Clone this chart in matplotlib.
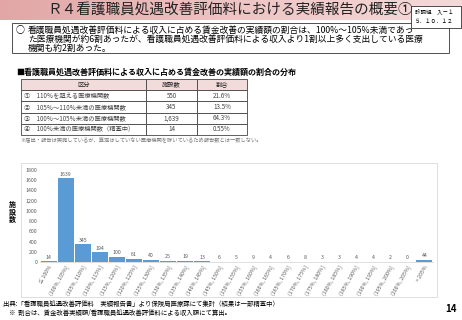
import numpy as np
import matplotlib.pyplot as plt
from matplotlib.patches import Rectangle
from matplotlib.colors import LinearSegmentedColormap

plt.rcParams['font.family'] = ['Noto Sans CJK JP', 'DejaVu Sans']

# ----------------------------
# Data
# ----------------------------
categories = ["≤ 100%", "(100%, 105%]", "(105%, 110%]", "(110%, 115%]", "(115%, 120%]",
              "(120%, 125%]", "(125%, 130%]", "(130%, 135%]", "(135%, 140%]", "(140%, 145%]",
              "(145%, 150%]", "(150%, 155%]", "(155%, 160%]", "(160%, 165%]", "(165%, 170%]",
              "(170%, 175%]", "(175%, 180%]", "(180%, 185%]", "(185%, 190%]", "(190%, 195%]",
              "(195%, 200%]", "(200%, 205%]", "> 205%"]
counts = [14, 1639, 345, 194, 100, 61, 40, 25, 19, 13, 6, 5, 9, 4, 6, 8, 3, 3, 4, 4, 2, 0, 44]

table_labels = ["①　110％を超える医療機関数", "②　105％～110％未満の医療機関数",
                "③　100％～105％未満の医療機関数", "④　100％未満の医療機関数（精査中）"]
table_counts = ["550", "345", "1,639", "14"]
table_ratios = ["21.6%", "13.5%", "64.3%", "0.55%"]

W, H = 462, 320


def fx(x):
    return x / W


def fy(y):
    return 1 - y / H


fig = plt.figure(figsize=(4.62, 3.2), dpi=100)

# ----------------------------
# Title band
# ----------------------------
band = fig.add_axes([0, fy(20), 1, 20 / H], zorder=-2)
grad = np.linspace(0, 1, 256).reshape(1, -1)
band.imshow(grad, aspect="auto", extent=[0, 1, 0, 1],
            cmap=LinearSegmentedColormap.from_list("pink", ["#e2a6a6", "#eec4c4", "#f5dada"]))
band.set_axis_off()
fig.text(fx(230), fy(11), "Ｒ４看護職員処遇改善評価料における実績報告の概要①",
         ha="center", va="center", fontsize=10.5, color="#222222")

fig.patches.append(Rectangle((fx(411), fy(28)), 50 / W, 22 / H, transform=fig.transFigure,
                             facecolor="white", edgecolor="#333333", lw=0.6, zorder=2))
fig.text(fx(415), fy(12), "診調組　入－１", fontsize=4, va="center", ha="left", zorder=3)
fig.text(fx(415), fy(21.5), "５．１０．１２", fontsize=4, va="center", ha="left", zorder=3)

# ----------------------------
# Summary box
# ----------------------------
fig.patches.append(Rectangle((fx(12), fy(53)), 437 / W, 30 / H, transform=fig.transFigure,
                             facecolor="white", edgecolor="#333333", lw=0.6, zorder=1))
fig.text(fx(16), fy(30), "○", fontsize=6.5, va="center")
fig.text(fx(28), fy(30), "看護職員処遇改善評価料による収入に占める賃金改善の実績額の割合は、100%～105%未満であっ",
         fontsize=6.3, va="center")
fig.text(fx(28), fy(39.5), "た医療機関が約6割あったが、看護職員処遇改善評価料による収入より1割以上多く支出している医療",
         fontsize=6.3, va="center")
fig.text(fx(28), fy(48.5), "機関も約2割あった。", fontsize=6.3, va="center")

fig.text(fx(16), fy(72), "■看護職員処遇改善評価料による収入に占める賃金改善の実績額の割合の分布",
         fontsize=5.8, va="center", fontweight="bold")

# ----------------------------
# Table
# ----------------------------
tax = fig.add_axes([fx(21), fy(135), 226 / W, 56 / H])
tax.set_axis_off()
rows = [[a, b, c] for a, b, c in zip(table_labels, table_counts, table_ratios)]
tbl = tax.table(cellText=rows, colLabels=["区分", "施設数", "割合"],
                colWidths=[125, 51, 50], bbox=[0, 0, 1, 1], cellLoc="center")
tbl.auto_set_font_size(False)
for (r, c), cell in tbl.get_celld().items():
    cell.set_linewidth(0.6)
    cell.set_edgecolor("#444444")
    cell.get_text().set_fontsize(4.5)
    cell.get_text().set_color("#444444")
    if r == 0:
        cell.set_facecolor("#f2dcdb")
        cell.get_text().set_color("#222222")
    if c == 0 and r > 0:
        cell.get_text().set_ha("left")
        cell.PAD = 0.02

fig.text(fx(20), fy(141), "※届出・報告は実施しているが、算定はしていない医療機関を除いているため報告数とは一致しない。",
         fontsize=3.8, color="#777777", va="center")

# ----------------------------
# Bar chart
# ----------------------------
fig.patches.append(Rectangle((fx(21), fy(297)), 416 / W, 134 / H, transform=fig.transFigure,
                             facecolor="white", edgecolor="#d9d9d9", lw=0.6, zorder=-1))
ax = fig.add_axes([fx(40), fy(262), 393 / W, 92 / H])
x = np.arange(len(categories))
ax.bar(x, counts, width=0.94, color="#5b9bd5")
for xi, v in zip(x, counts):
    ax.text(xi, v + 30, str(v), ha="center", va="bottom", fontsize=3.8, color="#595959")
ax.set_xlim(-0.5, len(categories) - 0.5)
ax.set_ylim(0, 1800)
ax.set_yticks(range(0, 1801, 200))
ax.set_xticks(x)
ax.set_xticklabels(categories, rotation=60, ha="right", rotation_mode="anchor")
ax.tick_params(axis="both", labelsize=3.8, labelcolor="#595959", length=0, pad=2)
for s in ["top", "right", "left"]:
    ax.spines[s].set_visible(False)
ax.spines["bottom"].set_color("#d9d9d9")
ax.spines["bottom"].set_linewidth(0.6)
ax.set_facecolor("none")
fig.text(fx(12), fy(212), "施\n設\n数", fontsize=5, fontweight="bold", ha="center", va="center",
         linespacing=1.0)

# ----------------------------
# Footer
# ----------------------------
fig.text(fx(3), fy(304), "出典:「看護職員処遇改善評価料　実績報告書」より保険局医療課にて集計（結果は一部精査中）",
         fontsize=4.6, va="center")
fig.text(fx(9), fy(313), "※  割合は、賃金改善実績額/看護職員処遇改善評価料による収入額にて算出。",
         fontsize=4.6, va="center")
fig.text(fx(457), fy(309), "14", fontsize=7, fontweight="bold", ha="right", va="center")

fig.savefig("out.png", dpi=100)
plt.close(fig)
